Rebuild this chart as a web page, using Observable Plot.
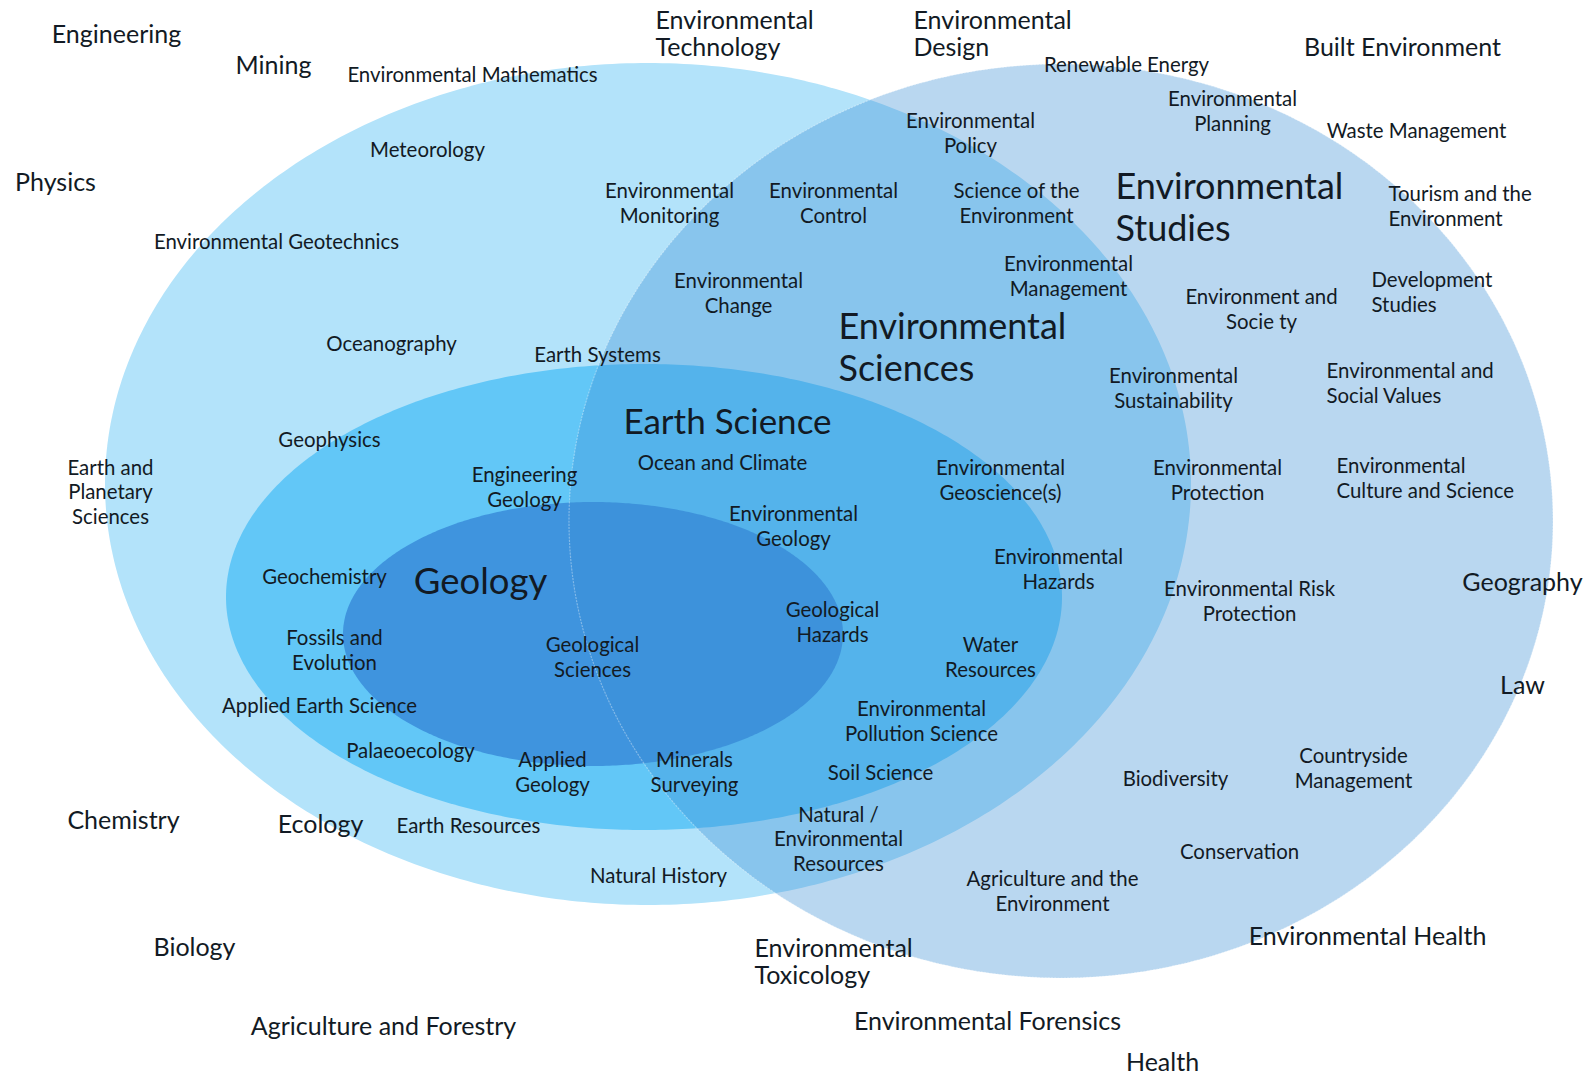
<!DOCTYPE html>
<html>
<head>
<meta charset="utf-8">
<script src="https://cdn.jsdelivr.net/npm/d3@7"></script>
<script src="https://cdn.jsdelivr.net/npm/@observablehq/plot@0.6"></script>
<style>
  html, body { margin: 0; padding: 0; background: #ffffff; }
  #chart svg { display: block; }
</style>
</head>
<body>
<div id="chart"></div>
<script>
// Sets of the Venn diagram (centre and radii, in pixel units)
const sets = [
  { name: "Environmental Sciences (broad)", cx: 648, cy: 484, rx: 543, ry: 421, fill: "#b3e3fa", opacity: 1 },
  { name: "Earth Science", cx: 644, cy: 597, rx: 418, ry: 233, fill: "#62c7f7", opacity: 1 },
  { name: "Geology", cx: 593, cy: 634, rx: 250, ry: 132, fill: "#3f94de", opacity: 1 },
  { name: "Environmental Studies", cx: 1061, cy: 521, rx: 492, ry: 457, fill: "#3a8ed5", opacity: 0.355 }
];

// Big set titles
const titles = [
  { text: "Environmental\nStudies", x: 1115, y: 206, anchor: "start", size: 36 },
  { text: "Environmental\nSciences", x: 838, y: 346, anchor: "start", size: 36 },
  { text: "Earth Science", x: 727, y: 420, anchor: "middle", size: 35 },
  { text: "Geology", x: 480, y: 580, anchor: "middle", size: 36.5 }
];

// Neighbouring disciplines (larger labels)
const outerLabels = [
  { text: "Engineering", x: 116, y: 34, anchor: "middle" },
  { text: "Mining", x: 273, y: 65, anchor: "middle" },
  { text: "Physics", x: 55, y: 182, anchor: "middle" },
  { text: "Environmental\nTechnology", x: 655, y: 33, anchor: "start" },
  { text: "Environmental\nDesign", x: 913, y: 33, anchor: "start" },
  { text: "Built Environment", x: 1402, y: 47, anchor: "middle" },
  { text: "Geography", x: 1522, y: 582, anchor: "middle" },
  { text: "Law", x: 1522, y: 685, anchor: "middle" },
  { text: "Chemistry", x: 123, y: 820, anchor: "middle" },
  { text: "Ecology", x: 320, y: 824, anchor: "middle" },
  { text: "Biology", x: 194, y: 947, anchor: "middle" },
  { text: "Agriculture and Forestry", x: 383, y: 1026, anchor: "middle" },
  { text: "Environmental\nToxicology", x: 754, y: 961, anchor: "start" },
  { text: "Environmental Forensics", x: 987, y: 1021, anchor: "middle" },
  { text: "Health", x: 1162, y: 1062, anchor: "middle" },
  { text: "Environmental Health", x: 1367, y: 936, anchor: "middle" }
];

// Fields inside / around the sets (smaller labels)
const fieldLabels = [
  { text: "Earth and\nPlanetary\nSciences", x: 110, y: 491, anchor: "middle" },
  { text: "Environmental Mathematics", x: 472, y: 74, anchor: "middle" },
  { text: "Renewable Energy", x: 1126, y: 64, anchor: "middle" },
  { text: "Meteorology", x: 427, y: 149, anchor: "middle" },
  { text: "Environmental\nPolicy", x: 970, y: 132, anchor: "middle" },
  { text: "Environmental\nPlanning", x: 1232, y: 110, anchor: "middle" },
  { text: "Waste Management", x: 1416, y: 130, anchor: "middle" },
  { text: "Environmental\nMonitoring", x: 669, y: 202, anchor: "middle" },
  { text: "Environmental\nControl", x: 833, y: 202, anchor: "middle" },
  { text: "Science of the\nEnvironment", x: 1016, y: 202, anchor: "middle" },
  { text: "Tourism and the\nEnvironment", x: 1388, y: 205, anchor: "start" },
  { text: "Environmental Geotechnics", x: 276, y: 241, anchor: "middle" },
  { text: "Environmental\nChange", x: 738, y: 292, anchor: "middle" },
  { text: "Environmental\nManagement", x: 1068, y: 275, anchor: "middle" },
  { text: "Environment and\nSocie ty", x: 1261, y: 308, anchor: "middle" },
  { text: "Development\nStudies", x: 1371, y: 291, anchor: "start" },
  { text: "Oceanography", x: 391, y: 343, anchor: "middle" },
  { text: "Earth Systems", x: 597, y: 354, anchor: "middle" },
  { text: "Environmental\nSustainability", x: 1173, y: 387, anchor: "middle" },
  { text: "Environmental and\nSocial Values", x: 1326, y: 382, anchor: "start" },
  { text: "Geophysics", x: 329, y: 439, anchor: "middle" },
  { text: "Ocean and Climate", x: 722, y: 462, anchor: "middle" },
  { text: "Engineering\nGeology", x: 524, y: 486, anchor: "middle" },
  { text: "Environmental\nGeoscience(s)", x: 1000, y: 479, anchor: "middle" },
  { text: "Environmental\nProtection", x: 1217, y: 479, anchor: "middle" },
  { text: "Environmental\nCulture and Science", x: 1336, y: 477, anchor: "start" },
  { text: "Environmental\nGeology", x: 793, y: 525, anchor: "middle" },
  { text: "Environmental\nHazards", x: 1058, y: 568, anchor: "middle" },
  { text: "Geochemistry", x: 324, y: 576, anchor: "middle" },
  { text: "Environmental Risk\nProtection", x: 1249, y: 600, anchor: "middle" },
  { text: "Geological\nHazards", x: 832, y: 621, anchor: "middle" },
  { text: "Fossils and\nEvolution", x: 334, y: 649, anchor: "middle" },
  { text: "Geological\nSciences", x: 592, y: 656, anchor: "middle" },
  { text: "Water\nResources", x: 990, y: 656, anchor: "middle" },
  { text: "Applied Earth Science", x: 319, y: 705, anchor: "middle" },
  { text: "Environmental\nPollution Science", x: 921, y: 720, anchor: "middle" },
  { text: "Palaeoecology", x: 410, y: 750, anchor: "middle" },
  { text: "Applied\nGeology", x: 552, y: 771, anchor: "middle" },
  { text: "Minerals\nSurveying", x: 694, y: 771, anchor: "middle" },
  { text: "Soil Science", x: 880, y: 772, anchor: "middle" },
  { text: "Biodiversity", x: 1175, y: 778, anchor: "middle" },
  { text: "Countryside\nManagement", x: 1353, y: 767, anchor: "middle" },
  { text: "Earth Resources", x: 468, y: 825, anchor: "middle" },
  { text: "Natural /\nEnvironmental\nResources", x: 838, y: 838, anchor: "middle" },
  { text: "Conservation", x: 1239, y: 851, anchor: "middle" },
  { text: "Natural History", x: 658, y: 875, anchor: "middle" },
  { text: "Agriculture and the\nEnvironment", x: 1052, y: 890, anchor: "middle" }
];

// Outline of each set, sampled along its parametric angle
const N = 240;
const outline = sets.flatMap(s =>
  d3.range(N + 1).map(i => {
    const t = Math.PI * i / N;
    return { name: s.name, x: s.cx - s.rx * Math.cos(t), y1: s.cy - s.ry * Math.sin(t), y2: s.cy + s.ry * Math.sin(t) };
  })
);

const FONT = "Lato, 'Open Sans', sans-serif";
const INK = "#121a24";

const setMarks = sets.map(s =>
  Plot.areaY(outline.filter(d => d.name === s.name), {
    x: "x", y1: "y1", y2: "y2",
    fill: s.fill, fillOpacity: s.opacity,
    curve: "linear",
    ...(s.name === "Environmental Studies" ? { stroke: "#ffffff", strokeOpacity: 0.35, strokeWidth: 1.2, strokeDasharray: "1.2,2" } : {})
  })
);

const textMarks = (data, size, lh) => ["start", "middle"].map(a =>
  Plot.text(data.filter(d => d.anchor === a), {
    x: "x", y: "y", text: "text",
    textAnchor: a, lineAnchor: "middle",
    fontSize: size, lineHeight: lh,
    fill: INK, fontFamily: FONT
  })
);

const chart = Plot.plot({
  width: 1592,
  height: 1076,
  margin: 0,
  x: { domain: [0, 1592], range: [0, 1592], axis: null },
  y: { domain: [0, 1076], range: [0, 1076], axis: null },
  style: { background: "#ffffff", fontFamily: FONT },
  marks: [
    ...setMarks,
    ...textMarks(fieldLabels, 20.4, 1.2),
    ...textMarks(outerLabels, 25, 1.1),
    ...titles.map(t => Plot.text([t], {
      x: "x", y: "y", text: "text",
      textAnchor: t.anchor, lineAnchor: "middle",
      fontSize: t.size, lineHeight: 1.16,
      fill: INK, fontFamily: FONT
    }))
  ]
});

document.getElementById("chart").appendChild(chart);
</script>
</body>
</html>
